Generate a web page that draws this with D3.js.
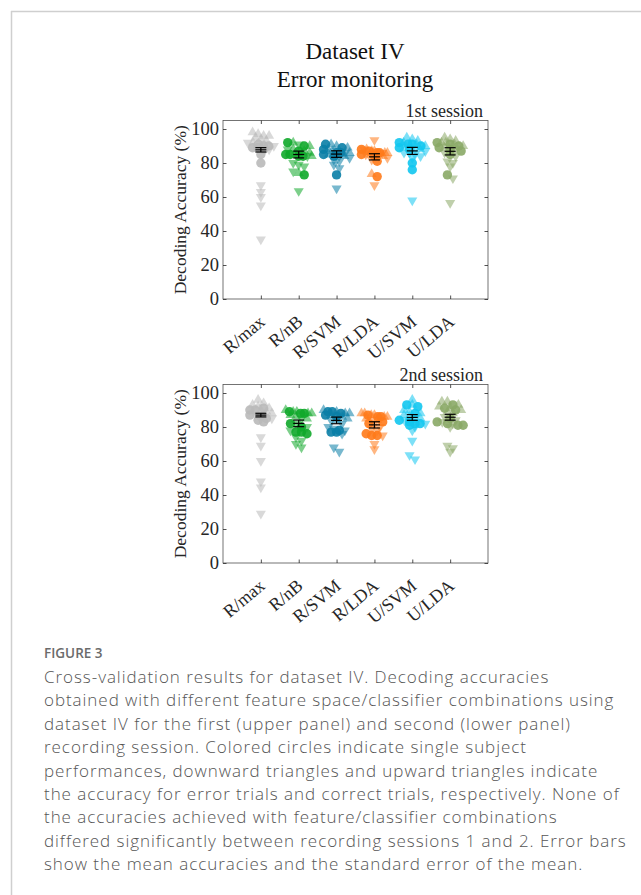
<!DOCTYPE html>
<html><head><meta charset="utf-8">
<script src="https://cdn.jsdelivr.net/npm/d3@7"></script>
<style>
html,body{margin:0;padding:0;background:#fff;}
svg{display:block;}
</style></head>
<body>
<svg id="chart" width="641" height="895"></svg>
<script>
const categories = ["R/max","R/nB","R/SVM","R/LDA","U/SVM","U/LDA"];
const colors = ["#b9b9b9","#10a82a","#0a7ea6","#ff7a1a","#12c6f0","#8aa866"];
const yTicks = [0,20,40,60,80,100];

// Session 1
const s1Circles = [
  [91,90,89,90,80,88,89,85],
  [92,90,85,84,85,84,73,87],
  [91,86,85,86,84,73,88,89],
  [88,87,86,86,85,72,84,81],
  [91,91,90,80,76,89,92,88],
  [92,91,90,89,87,73,85,88]
];
const s1Down = [
  [90,88,67,63,60,55,35,92],
  [79,78,80,75,63.5,84,88,91],
  [81,77,65,82,84,86,79,83],
  [93.5,67,85,84,86,83,88,82],
  [86,85,83,58,88,84,87,86],
  [81,78,71,56.5,88,86,84,80]
];
const s1Up = [
  [97,96,95,93,94,98,92,96],
  [92,88,86,90,84,87,74,85],
  [89,90,88,87,86,91,85,84],
  [73.5,87,86,85,88,87,86,84],
  [94,93,92,90,89,91,95,88],
  [95,93,92,90,91,89,94,92]
];
// Session 2
const s2Circles = [
  [91,86,85,84,90,87,90,83],
  [89,88,88,77,76,77,82,80],
  [89,89,88,78,77,77,86,87],
  [87,86,86,75,76,75,82,83],
  [93,92,88,83,82,82,84,81],
  [93,91,90,82,81,81,85,83]
];
const s2Down = [
  [74,69,60,48,44.5,29,87,85],
  [72,70,68,74,78,80,85,82],
  [68,65.5,78,80,82,76,84,79],
  [70,67,80,78,84,82,75,79],
  [72,63.5,61,85,80,82,84,78],
  [69,67.5,65.5,84,80,86,83,82]
];
const s2Up = [
  [96,94,93,92,90,89,88,91],
  [89,88,90,87,86,88,89,85],
  [90,88,87,89,86,85,84,88],
  [88,88,87,86,85,87,84,86],
  [96,93,90,88,86,85,87,89],
  [95,95,93,92,90,88,89,91]
];

const svg = d3.select("#chart");
const serif = "'Liberation Serif','Times New Roman',serif";
const sans = "'Open Sans','Noto Sans',sans-serif";
const axisColor = "#262626";

// page frame
svg.append("line").attr("x1",11).attr("y1",11.5).attr("x2",641).attr("y2",11.5).attr("stroke","#cfcfcf").attr("stroke-width",1.5);
svg.append("line").attr("x1",11.5).attr("y1",11).attr("x2",11.5).attr("y2",895).attr("stroke","#cfcfcf").attr("stroke-width",1.5);

// titles
svg.append("text").attr("x",355).attr("y",59).attr("text-anchor","middle")
  .style("font-family",serif).style("font-size","23px").attr("fill","#111").text("Dataset IV");
svg.append("text").attr("x",355).attr("y",87).attr("text-anchor","middle")
  .style("font-family",serif).style("font-size","23px").attr("fill","#111").text("Error monitoring");

const left = 223, right = 488;
const x = d3.scaleLinear().domain([0, categories.length + 1]).range([left, right]);

// spread points that share similar values sideways (bin-based spread)
function spread(items, yScale) {
  items.sort((a, b) => b.v - a.v);
  const bins = [];
  items.forEach(it => {
    it.py = yScale(it.v);
    const last = bins[bins.length - 1];
    if (last && it.py - last[0].py < 5) last.push(it); else bins.push([it]);
  });
  bins.forEach(b => {
    const n = b.length;
    const step = n > 1 ? Math.min(5.5, 26 / (n - 1)) : 0;
    b.forEach((it, k) => { it.dx = (k - (n - 1) / 2) * step; });
  });
  return items;
}

function panel(top, bottom, circles, down, up, label) {
  const y = d3.scaleLinear().domain([0, 105]).range([bottom, top]);
  const g = svg.append("g");

  // box
  g.append("rect").attr("x", left).attr("y", top).attr("width", right - left).attr("height", bottom - top)
    .attr("fill", "none").attr("stroke", axisColor).attr("stroke-width", 0.8).attr("stroke-opacity",0.8);

  // y axis
  const yAxis = d3.axisLeft(y).tickValues(yTicks).tickSizeInner(-3.5).tickSizeOuter(0).tickPadding(4);
  const ya = g.append("g").attr("transform", `translate(${left},0)`).call(yAxis);
  ya.select(".domain").remove();
  ya.selectAll("line").attr("stroke", axisColor).attr("stroke-opacity",0.8);
  ya.selectAll("text").style("font-family", serif).style("font-size", "18.5px").attr("fill", axisColor);
  const yr = g.append("g").attr("transform", `translate(${right},0)`)
    .call(d3.axisRight(y).tickValues(yTicks).tickSizeInner(-3.5).tickSizeOuter(0).tickFormat(""));
  yr.select(".domain").remove();
  yr.selectAll("line").attr("stroke", axisColor).attr("stroke-opacity",0.8);

  // x axis
  const xTickVals = categories.map((c, i) => i + 1);
  const xa = g.append("g").attr("transform", `translate(0,${bottom})`)
    .call(d3.axisBottom(x).tickValues(xTickVals).tickSizeInner(-3.5).tickSizeOuter(0).tickFormat(""));
  xa.select(".domain").remove();
  xa.selectAll("line").attr("stroke", axisColor).attr("stroke-opacity",0.8);
  const xt = g.append("g").attr("transform", `translate(0,${top})`)
    .call(d3.axisTop(x).tickValues(xTickVals).tickSizeInner(-3.5).tickSizeOuter(0).tickFormat(""));
  xt.select(".domain").remove();
  xt.selectAll("line").attr("stroke", axisColor).attr("stroke-opacity",0.8);

  // x labels rotated
  g.selectAll(".xl").data(categories).join("text")
    .attr("transform", (d, i) => `translate(${x(i + 1) + 1.5},${bottom + 20}) rotate(-40)`)
    .attr("text-anchor", "end").attr("dominant-baseline", "central")
    .style("font-family", serif).style("font-size", "18px").attr("fill", axisColor)
    .text(d => d);

  // y label
  g.append("text").attr("transform", `translate(180,${(top + bottom) / 2}) rotate(-90)`)
    .attr("text-anchor", "middle").attr("dominant-baseline", "central")
    .style("font-family", serif).style("font-size", "17.5px").attr("fill", axisColor)
    .text("Decoding Accuracy (%)");

  // session label
  g.append("text").attr("x", right - 5).attr("y", top - 4).attr("text-anchor", "end")
    .style("font-family", serif).style("font-size", "18px").attr("fill", axisColor).text(label);

  const tri = d3.symbol().type(d3.symbolTriangle).size(44);
  categories.forEach((c, i) => {
    const items = [];
    circles[i].forEach(v => items.push({ v, t: "c" }));
    down[i].forEach(v => items.push({ v, t: "d" }));
    up[i].forEach(v => items.push({ v, t: "u" }));
    spread(items, y);
    const cx = x(i + 1);
    const gg = g.append("g");
    gg.selectAll(".tri").data(items.filter(d => d.t !== "c")).join("path")
      .attr("d", tri)
      .attr("transform", d => `translate(${cx + d.dx},${d.py}) rotate(${d.t === "d" ? 180 : 0})`)
      .attr("fill", colors[i]).attr("fill-opacity", 0.55);
    gg.selectAll("circle").data(items.filter(d => d.t === "c")).join("circle")
      .attr("cx", d => cx + d.dx).attr("cy", d => d.py).attr("r", 4.7)
      .attr("fill", colors[i]).attr("fill-opacity", 0.9);

    // mean and SEM
    const m = d3.mean(circles[i]);
    const sem = d3.deviation(circles[i]) / Math.sqrt(circles[i].length);
    const eb = g.append("g").attr("stroke", "#000").attr("stroke-width", 1.2);
    eb.append("line").attr("x1", cx).attr("x2", cx).attr("y1", y(m - sem)).attr("y2", y(m + sem));
    [m - sem, m, m + sem].forEach(v => {
      eb.append("line").attr("x1", cx - 5.5).attr("x2", cx + 5.5).attr("y1", y(v)).attr("y2", y(v));
    });
  });
}

panel(120.5, 299, s1Circles, s1Down, s1Up, "1st session");
panel(384.5, 563, s2Circles, s2Down, s2Up, "2nd session");

// caption
svg.append("text").attr("x", 44).attr("y", 658)
  .style("font-family", sans).style("font-size", "13.5px").style("font-weight", "600")
  .attr("fill", "#6b6b6b").text("FIGURE 3");
const captionLines = [
  "Cross-validation results for dataset IV. Decoding accuracies",
  "obtained with different feature space/classifier combinations using",
  "dataset IV for the first (upper panel) and second (lower panel)",
  "recording session. Colored circles indicate single subject",
  "performances, downward triangles and upward triangles indicate",
  "the accuracy for error trials and correct trials, respectively. None of",
  "the accuracies achieved with feature/classifier combinations",
  "differed significantly between recording sessions 1 and 2. Error bars",
  "show the mean accuracies and the standard error of the mean."
];
svg.append("g").selectAll("text").data(captionLines).join("text")
  .attr("x", 44).attr("y", (d, i) => 683 + i * 23.4)
  .style("font-family", sans).style("font-size", "17px").style("font-weight", "300")
  .style("letter-spacing", "0.95px").attr("fill", "#555")
  .text(d => d);
</script>
</body></html>
